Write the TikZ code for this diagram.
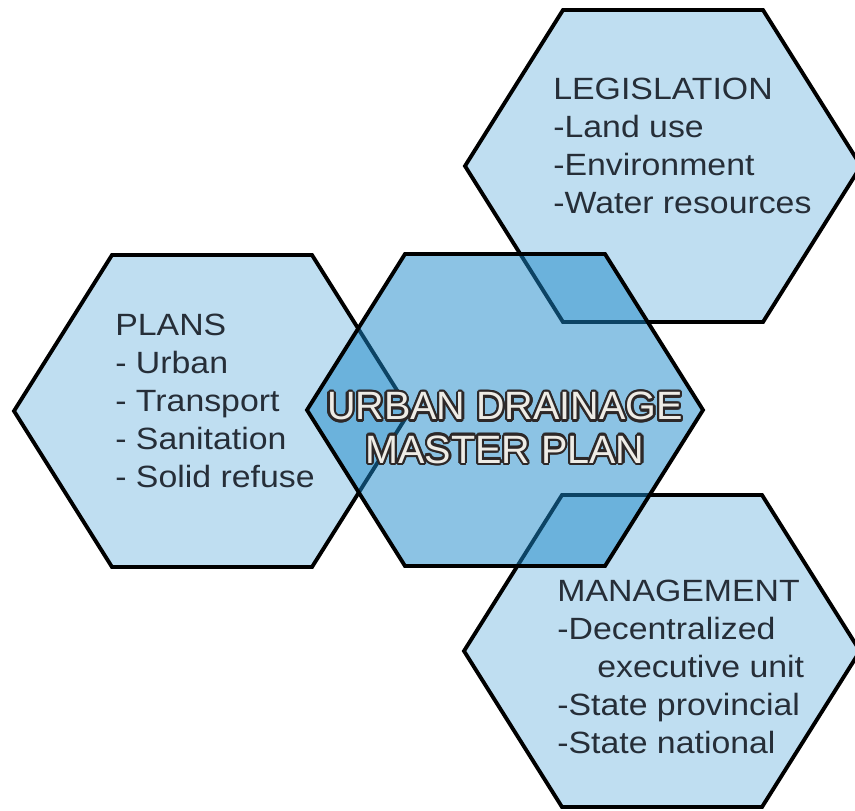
\documentclass[tikz,border=0pt]{standalone}
\usepackage{fontspec}
\setmainfont{Liberation Sans}[FakeStretch=1.1]
\newfontfamily\titlefont{Liberation Sans}
\usepackage[copies]{contour}
\contourlength{1.3pt}
\usetikzlibrary{positioning}
\definecolor{hexlight}{RGB}{191,222,241}
\definecolor{hexmid}{RGB}{25,135,201}
\definecolor{hextext}{RGB}{38,46,56}
\definecolor{titlefill}{RGB}{238,236,230}
\definecolor{titleedge}{RGB}{45,40,40}

\begin{document}
\begin{tikzpicture}[x=0.2mm, y=-0.2mm,
    hexa/.style={draw=black, line width=2.2pt, fill=hexlight},
    midhexa/.style={draw=black, line width=2.2pt, fill=hexmid, fill opacity=0.5},
    listtext/.style={font=\fontsize{17.5}{21.6}\selectfont, text=hextext,
                     align=left, anchor=base west, inner sep=0pt},
    title/.style={font=\titlefont\fontsize{22.5}{24.5}\selectfont, text=titlefill,
                  align=center, anchor=base, inner sep=0pt}
]
\useasboundingbox (0,0) rectangle (855,810);
\clip (0,0) rectangle (855,810);

% the three outer hexagons
\draw[hexa, shift={(212,411)}] (-198,0) -- (-100,-156) -- (100,-156) -- (198,0) -- (100,156) -- (-100,156) -- cycle;
\draw[hexa, shift={(663,166)}] (-198,0) -- (-100,-156) -- (100,-156) -- (198,0) -- (100,156) -- (-100,156) -- cycle;
\draw[hexa, shift={(662,651)}] (-198,0) -- (-100,-156) -- (100,-156) -- (198,0) -- (100,156) -- (-100,156) -- cycle;

% the master plan on top
\draw[midhexa, shift={(505,410)}] (-198,0) -- (-100,-156) -- (100,-156) -- (198,0) -- (100,156) -- (-100,156) -- cycle;

% anchor base = baseline of the last line
\node[listtext] (plans) at (115,487) {PLANS\\- Urban\\- Transport\\- Sanitation\\- Solid refuse};
\node[listtext] (legis) at (553,213) {LEGISLATION\\-Land use\\-Environment\\-Water resources};
\node[listtext] (manag) at (557,753) {MANAGEMENT\\-Decentralized\\\hspace*{1.3em}executive unit\\-State provincial\\-State national};

\node[title] (master) at (505,463) {\contour{titleedge}{URBAN DRAINAGE}\\\contour{titleedge}{MASTER PLAN}};
\end{tikzpicture}
\end{document}
